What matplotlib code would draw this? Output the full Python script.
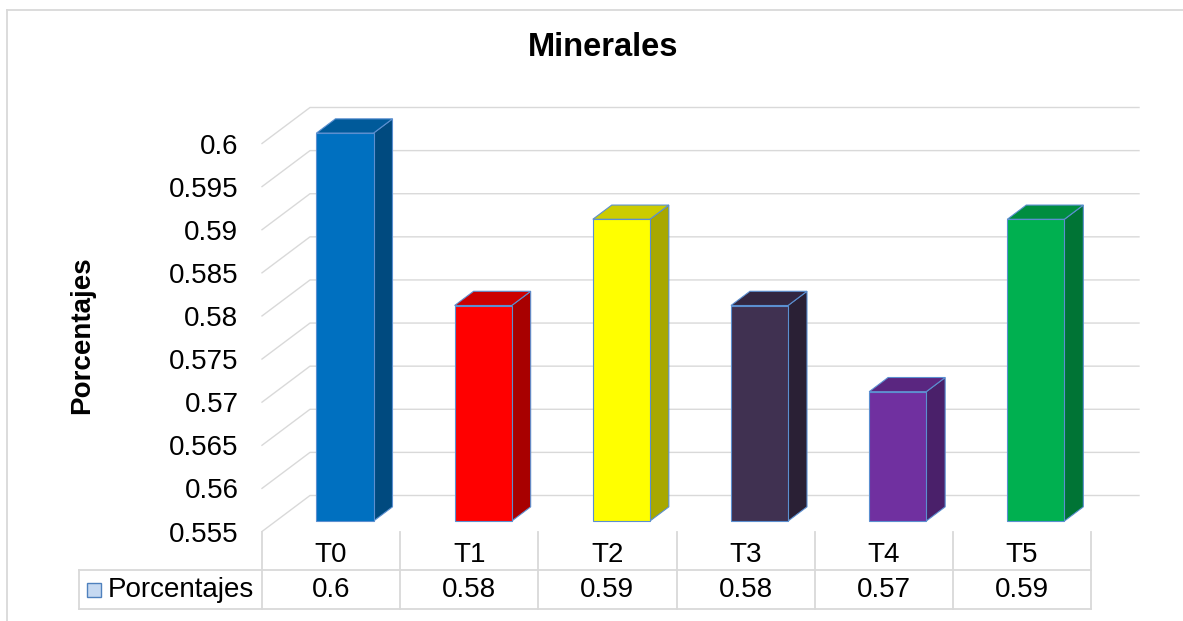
import matplotlib
matplotlib.use('Agg')
import numpy as np
import matplotlib.pyplot as plt
from matplotlib.patches import Polygon
from matplotlib.lines import Line2D
from matplotlib.transforms import blended_transform_factory
from matplotlib.colors import to_rgb

plt.rcParams['font.family'] = ['Liberation Sans', 'DejaVu Sans']

title = 'Minerales'
series_name = 'Porcentajes'
categories = ['T0', 'T1', 'T2', 'T3', 'T4', 'T5']
values = [0.6, 0.58, 0.59, 0.58, 0.57, 0.59]
bar_colors = ['#0070C0', '#FF0000', '#FFFF00', '#403151', '#7030A0', '#00B050']
y_min, y_max, y_step = 0.555, 0.6, 0.005

W, H = 1183, 621
fig = plt.figure(figsize=(W / 100, H / 100), dpi=100)

# front plane of the 3d box, in pixels from the top-left corner
px_left, px_right, px_top, px_bot = 262, 1091, 143.5, 531.5
ax = fig.add_axes([px_left / W, (H - px_bot) / H,
                   (px_right - px_left) / W, (px_bot - px_top) / H])
n = len(categories)
ax.set_xlim(-0.5, n - 0.5)
ax.set_ylim(y_min, y_max)
for s in ax.spines.values():
    s.set_visible(False)

# depth vector (front -> back wall) in data units
col_px = (px_right - px_left) / n
DX = 48 / col_px
DY = 36 / (px_bot - px_top) * (y_max - y_min)

def proj(x, v, d):
    return (x + d * DX, v + d * DY)

ticks = np.round(np.arange(y_min, y_max + y_step / 2, y_step), 3)
ax.set_yticks(ticks)
ax.set_yticklabels([f'{t:g}' for t in ticks])
ax.set_xticks([])
ax.tick_params(axis='y', length=0, pad=17, labelsize=20)

grid_c = '#D9D9D9'
for t in ticks:
    pts = [proj(-0.5, t, 0), proj(-0.5, t, 1), proj(n - 0.5, t, 1)]
    ax.plot(*zip(*pts), color=grid_c, lw=1.0, clip_on=False, zorder=1)

def shade(c, k):
    r, g, b = to_rgb(c)
    return (r * k, g * k, b * k)

bw = 0.413
d0, d1 = 0.29, 0.685
edge = '#5B8FD0'
for i, (v, c) in enumerate(zip(values, bar_colors)):
    xl, xr = i - bw / 2, i + bw / 2
    front = [proj(xl, y_min, d0), proj(xr, y_min, d0), proj(xr, v, d0), proj(xl, v, d0)]
    top = [proj(xl, v, d0), proj(xr, v, d0), proj(xr, v, d1), proj(xl, v, d1)]
    side = [proj(xr, y_min, d0), proj(xr, y_min, d1), proj(xr, v, d1), proj(xr, v, d0)]
    for poly, k in ((side, 0.66), (top, 0.8), (front, 1.0)):
        ax.add_patch(Polygon(poly, closed=True, facecolor=shade(c, k), edgecolor=edge,
                             lw=0.8, clip_on=False, zorder=3))

# data table under the plot
tr = blended_transform_factory(ax.transData, ax.transAxes)
row_mid = (px_bot - 570) / (px_bot - px_top)
row_bot = (px_bot - 609) / (px_bot - px_top)
leg_x = -0.5 + (79 - px_left) / col_px
tbl = dict(color=grid_c, lw=1.3, transform=tr, clip_on=False, zorder=1)
for k in range(n + 1):
    ax.plot([k - 0.5, k - 0.5], [0, row_bot], **tbl)
ax.plot([leg_x, leg_x], [row_mid, row_bot], **tbl)
ax.plot([leg_x, n - 0.5], [row_mid, row_mid], **tbl)
ax.plot([leg_x, n - 0.5], [row_bot, row_bot], **tbl)

cat_y = (px_bot - 555) / (px_bot - px_top)
val_y = (px_bot - 590) / (px_bot - px_top)
for i, (cat, v) in enumerate(zip(categories, values)):
    ax.text(i, cat_y, cat, transform=tr, ha='center', va='center', fontsize=20)
    ax.text(i, val_y, f'{v:g}', transform=tr, ha='center', va='center', fontsize=20)

ax.plot([-0.5 + (94.5 - px_left) / col_px], [val_y], marker='s', markersize=10,
        markerfacecolor='#C6D9F1', markeredgecolor='#4F81BD', markeredgewidth=1.0,
        transform=tr, clip_on=False)
ax.text(-0.5 + (108 - px_left) / col_px, val_y, series_name, transform=tr,
        ha='left', va='center', fontsize=20)

fig.text(603 / W, (H - 47) / H, title, ha='center', va='center',
         fontsize=23.5, fontweight='bold')
fig.text(82 / W, (H - 335) / H, series_name, ha='center', va='center',
         rotation=90, fontsize=20, fontweight='bold')

# chart area border (top and left edges)
fig.add_artist(Line2D([7 / W, 1], [(H - 10) / H, (H - 10) / H], color=grid_c, lw=1.3,
                      transform=fig.transFigure))
fig.add_artist(Line2D([7 / W, 7 / W], [0, (H - 10) / H], color=grid_c, lw=1.3,
                      transform=fig.transFigure))

fig.savefig('out.png', dpi=100)
